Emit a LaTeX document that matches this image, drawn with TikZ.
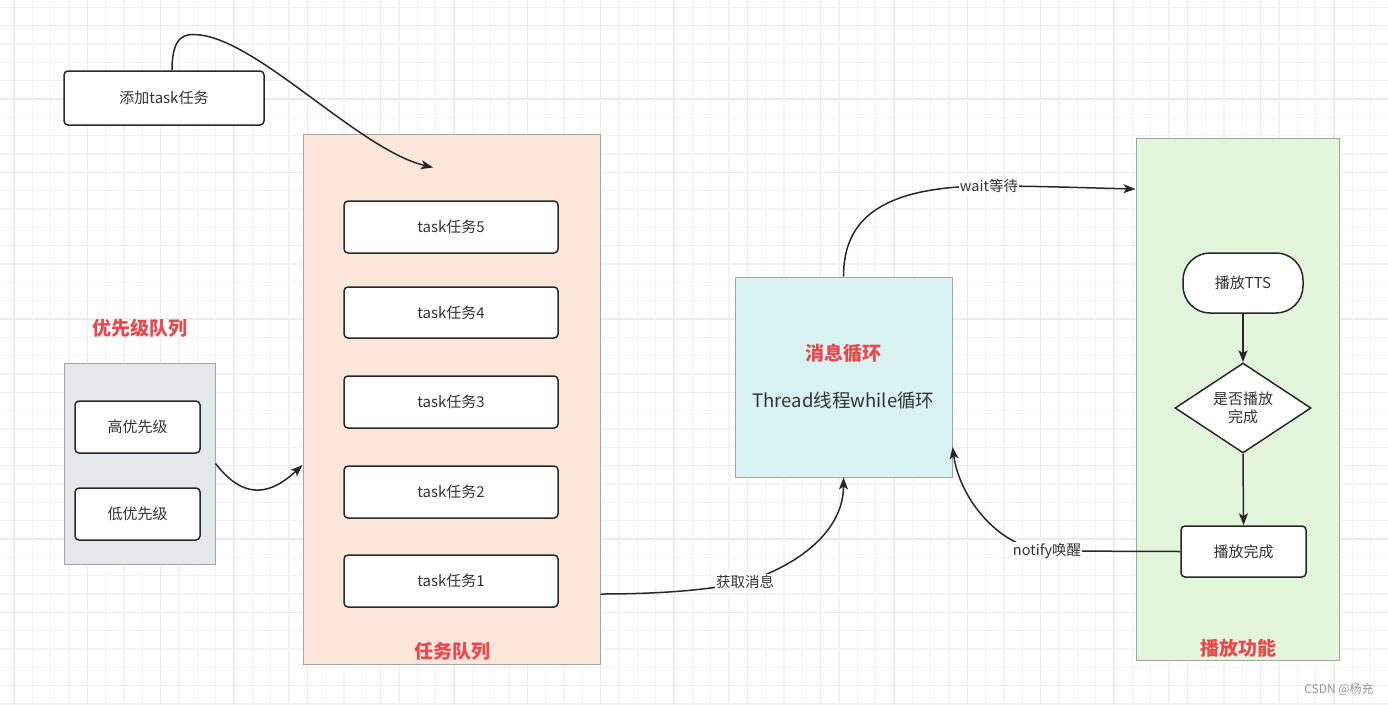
\documentclass[tikz,border=0pt]{standalone}
\usepackage{fontspec}
\setmainfont{Noto Sans CJK SC}
\usetikzlibrary{arrows.meta,shapes.geometric,calc}
\definecolor{txt}{RGB}{51,51,51}
\definecolor{lbl}{RGB}{234,72,78}
\definecolor{edge}{RGB}{40,40,40}
\definecolor{gridminor}{RGB}{243,243,243}
\definecolor{gridmajor}{RGB}{236,236,236}
\definecolor{orangefill}{RGB}{251,230,217}
\definecolor{grayfill}{RGB}{230,233,236}
\definecolor{cyanfill}{RGB}{217,243,243}
\definecolor{greenfill}{RGB}{227,245,219}
\definecolor{contborder}{RGB}{165,165,165}
\begin{document}
\begin{tikzpicture}[x=1pt,y=-1pt,
  txtfont/.style={font=\fontsize{15}{18}\selectfont, text=txt},
  whitebox/.style={draw=edge, line width=1.5pt, fill=white, rounded corners=4pt, txtfont, inner sep=0pt},
  container/.style={draw=contborder, line width=1pt, inner sep=0pt},
  redlabel/.style={font=\fontsize{19}{23}\selectfont\bfseries, text=lbl},
  conn/.style={draw=edge, line width=1.5pt, -{Stealth[length=12pt,width=9pt,inset=3pt]}},
  edgelabel/.style={fill=white, inner sep=1pt, font=\fontsize{14.5}{17}\selectfont, text=txt}
]
\useasboundingbox (0,0) rectangle (1388,704);
\fill[white] (0,0) rectangle (1388,704);
% grid
\foreach \x in {-4.333,14,...,1390} \draw[gridminor, line width=1.2pt] (\x,0) -- (\x,704);
\foreach \y in {7.333,25.667,...,706} \draw[gridminor, line width=1.2pt] (0,\y) -- (1388,\y);
\foreach \x in {14,87.333,...,1390} \draw[gridmajor, line width=1.6pt] (\x,0) -- (\x,704);
\foreach \y in {25.667,99,...,706} \draw[gridmajor, line width=1.6pt] (0,\y) -- (1388,\y);

% containers
\node[container, fill=orangefill, minimum width=297pt, minimum height=530pt] (taskq) at (451.5,399) {};
\node[container, fill=grayfill, minimum width=151pt, minimum height=201pt] (prio) at (139.5,463.5) {};
\node[container, fill=cyanfill, minimum width=217pt, minimum height=200pt] (msg) at (843.5,377) {};
\node[container, fill=greenfill, minimum width=203pt, minimum height=522pt] (play) at (1237.5,399) {};

% container labels
\node[redlabel] (tqlabel) at (452,651) {任务队列};
\node[redlabel] (priolabel) at (140,328) {优先级队列};
\node[redlabel] (playlabel) at (1238,648) {播放功能};
\node[redlabel] (msglabel) at (843.5,353) {消息循环};
\node[font=\fontsize{18.5}{22}\selectfont, text=txt] (msgtext) at (843.5,401) {Thread线程while循环};

% boxes
\node[whitebox, minimum width=200pt, minimum height=54pt] (add) at (164,98) {添加task任务};
\node[whitebox, minimum width=214pt, minimum height=52pt] (t5) at (451,227) {task任务5};
\node[whitebox, minimum width=214pt, minimum height=51pt] (t4) at (451,312.5) {task任务4};
\node[whitebox, minimum width=214pt, minimum height=52pt] (t3) at (451,402) {task任务3};
\node[whitebox, minimum width=214pt, minimum height=52pt] (t2) at (451,492) {task任务2};
\node[whitebox, minimum width=214pt, minimum height=52pt] (t1) at (451,581) {task任务1};
\node[whitebox, minimum width=125pt, minimum height=52pt] (high) at (137.5,427) {高优先级};
\node[whitebox, minimum width=125pt, minimum height=52pt] (low) at (137.5,514) {低优先级};
\node[whitebox, rounded corners=27pt, minimum width=120pt, minimum height=60pt] (tts) at (1243,283) {播放TTS};
\node[draw=edge, line width=1.5pt, fill=white, diamond, aspect=1.5, inner sep=0pt, minimum width=136pt, minimum height=90pt, txtfont, align=center] (dia) at (1243,408) {是否播放\\完成};
\node[whitebox, minimum width=125pt, minimum height=51pt] (done) at (1243.5,551.5) {播放完成};

% connectors
\coordinate (addend) at ([xshift=-18.5pt,yshift=-34pt]taskq.north);
\draw[conn] ([xshift=8pt]add.north) .. controls (172,35) and (185,33) .. (200,35)
   .. controls (260,42) and (360,150) .. (addend);
\draw[conn] (prio.east) .. controls (240,495) and (265,500) .. ([yshift=-66pt]taskq.west);

\coordinate (getlbl) at (745,582);
\draw[conn] ([yshift=-195pt]taskq.east) .. controls (660,594) and (710,590) .. (getlbl)
   .. controls (800,565) and (843.5,530) .. (msg.south);
\node[edgelabel] (getlabel) at (getlbl) {获取消息};

\coordinate (waitlbl) at (989,186);
\draw[conn] (msg.north) .. controls (843.5,220) and (880,186) .. (waitlbl)
   .. controls (1040,186) and (1090,188) .. ([yshift=210pt]play.west);
\node[edgelabel] (waitlabel) at (waitlbl) {wait等待};

\coordinate (notlbl) at (1047,551);
\draw[conn] (done.west) -- (notlbl) .. controls (1000,548) and (960,500) .. ([yshift=-70pt]msg.east);
\node[edgelabel] (notlabel) at (notlbl) {notify唤醒};

\draw[conn] (tts.south) -- (dia.north);
\draw[conn] (dia.south) -- (done.north);

% watermark
\node[font=\fontsize{12}{14}\selectfont, text={rgb,255:red,150;green,150;blue,150}] (wm) at (1339,689) {CSDN @杨充};
\end{tikzpicture}
\end{document}
